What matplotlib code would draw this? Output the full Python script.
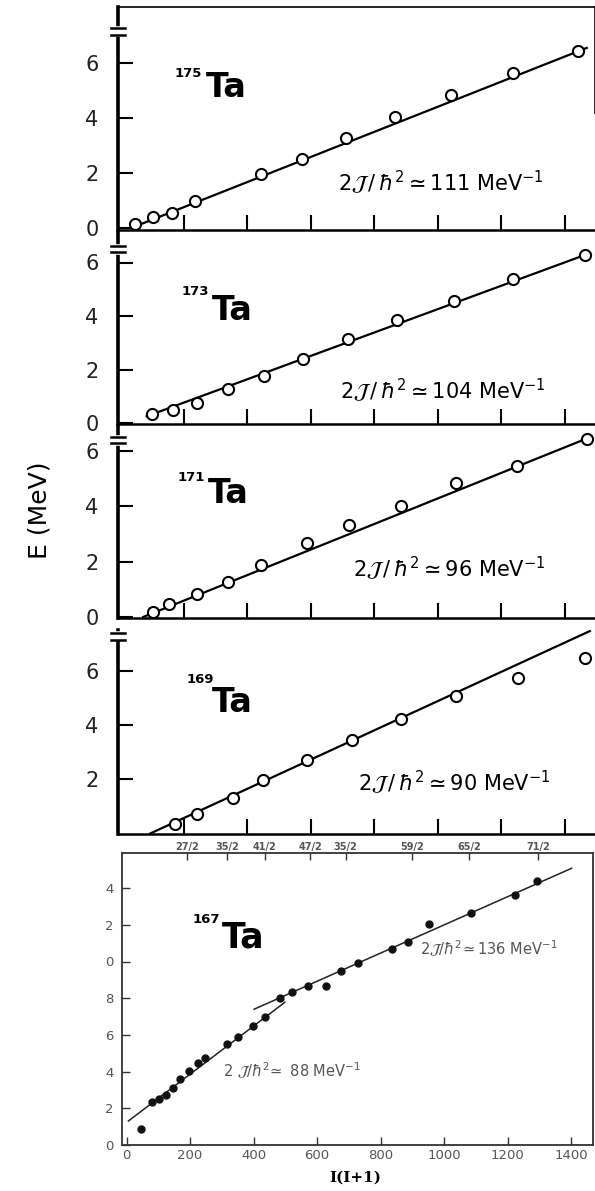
import matplotlib
matplotlib.use("agg")
import matplotlib.pyplot as plt
from matplotlib.lines import Line2D

# values: x = I(I+1), E in MeV
ta175_ii = [47, 104, 164, 236, 444, 573, 712, 866, 1043, 1238, 1443]
ta175_e = [0.15, 0.40, 0.55, 0.98, 1.96, 2.50, 3.27, 4.04, 4.84, 5.64, 6.44]
ta175_fit_ii = [35, 1470]
ta175_fit_e = [0.0, 6.55]

ta173_ii = [101, 167, 243, 340, 454, 576, 718, 872, 1052, 1238, 1465]
ta173_e = [0.34, 0.49, 0.75, 1.27, 1.76, 2.39, 3.14, 3.85, 4.56, 5.38, 6.28]
ta173_fit_ii = [84, 1480]
ta173_fit_e = [0.25, 6.35]

ta171_ii = [104, 154, 243, 340, 444, 589, 721, 885, 1058, 1250, 1471]
ta171_e = [0.18, 0.47, 0.83, 1.26, 1.87, 2.67, 3.32, 4.00, 4.83, 5.44, 6.41]
ta171_fit_ii = [73, 1474]
ta171_fit_e = [0.0, 6.45]

ta169_ii = [173, 243, 356, 450, 589, 731, 885, 1058, 1254, 1465]
ta169_e = [0.33, 0.70, 1.30, 1.96, 2.70, 3.44, 4.22, 5.07, 5.74, 6.48]
ta169_fit_ii = [95, 1480]
ta169_fit_e = [-0.02, 7.48]

ta167_ii = [45, 81, 103, 124, 148, 169, 198, 226, 247, 318, 352, 399, 436,
            484, 520, 573, 628, 675, 730, 837, 888, 954, 1084, 1224, 1294]
ta167_e = [0.85, 2.33, 2.52, 2.72, 3.09, 3.58, 4.05, 4.45, 4.76, 5.49, 5.87,
           6.48, 6.98, 8.01, 8.32, 8.67, 8.67, 9.48, 9.90, 10.68, 11.06,
           12.03, 12.63, 13.61, 14.40]
ta167_low_fit_ii = [6, 499]
ta167_low_fit_e = [1.31, 7.78]
ta167_high_fit_ii = [402, 1402]
ta167_high_fit_e = [7.40, 15.08]

moments = ["111", "104", "96", "90"]
isotopes = ["175", "173", "171", "169"]
x_ticks = [0, 200, 400, 600, 800, 1000, 1200, 1400]
e_ticks_167 = [0, 2, 4, 6, 8, 10, 12, 14]
e_tick_labels_167 = ["0", "2", "4", "6", "8", "0", "2", "4"]
spin_ticks = [190, 318, 436, 578, 690, 900, 1080, 1296]
spin_labels = ["27/2", "35/2", "41/2", "47/2", "35/2", "59/2", "65/2", "71/2"]

W, H = 595, 1191


def fig_box(left, top, right, bottom):
    return [left / W, 1 - bottom / H, (right - left) / W, (bottom - top) / H]


def fig_xy(x, y):
    return x / W, 1 - y / H


def px_to_data(px):
    # shared x scale of the upper panels: 0 at 120 px, 63.5 px per 200
    return (px - 120) / 63.5 * 200


fig = plt.figure(figsize=(W / 100, H / 100), dpi=100)

# layout of the four stacked panels, in pixels
upper_layout = [
    # top, bottom, zero_px, px_per_mev, break_y, ta_y, sup_y, ta_x, sup_x, note_x, note_y
    (7, 230, 228, 27.5, 31, 97, 77, 206, 175, 338, 190),
    (232, 424, 423, 26.75, 249, 320, 295, 212, 182, 340, 398),
    (426, 618, 617, 27.75, 440, 503, 481, 208, 178, 353, 576),
    (630, 834, 833, 27.0, 636, 712, 683, 212, 187, 358, 790),
]
upper_data = [
    (ta175_ii, ta175_e, ta175_fit_ii, ta175_fit_e),
    (ta173_ii, ta173_e, ta173_fit_ii, ta173_fit_e),
    (ta171_ii, ta171_e, ta171_fit_ii, ta171_fit_e),
    (ta169_ii, ta169_e, ta169_fit_ii, ta169_fit_e),
]

for index, (layout, data) in enumerate(zip(upper_layout, upper_data)):
    top, bottom, zero_px, scale, break_y, ta_y, sup_y, ta_x, sup_x, note_x, note_y = layout
    ii, energy, fit_ii, fit_e = data
    ax = fig.add_axes(fig_box(118, top, W, bottom))
    ax.plot(fit_ii, fit_e, color="black", lw=1.6, zorder=2)
    ax.plot(ii, energy, "o", ms=8, mfc="white", mec="black", mew=1.5, zorder=3)
    ax.set_xlim(px_to_data(118), px_to_data(W))
    ax.set_ylim((zero_px - bottom) / scale, (zero_px - top) / scale)
    ax.set_xticks(x_ticks[1:])
    ax.set_yticks([0, 2, 4, 6] if index < 3 else [2, 4, 6])
    ax.tick_params(axis="x", direction="in", length=11, width=1.5,
                   labelbottom=False)
    ax.tick_params(axis="y", direction="in", length=11, width=1.5, pad=14,
                   labelsize=15, labelcolor="#222222")
    ax.spines["left"].set_linewidth(2.6)
    ax.spines["bottom"].set_linewidth(1.8)
    ax.spines["top"].set_visible(index == 0)
    ax.spines["top"].set_linewidth(1.2)
    ax.spines["right"].set_visible(index == 0)
    ax.spines["right"].set_linewidth(1.2)
    if index == 0:
        ax.spines["right"].set_bounds((zero_px - 113) / scale, (zero_px - top) / scale)

    # axis break mark on the energy axis
    x0, y0 = fig_xy(118, break_y - 2.5)
    x1, y1 = fig_xy(118, break_y + 2.5)
    fig.add_artist(Line2D([x0, x1], [y0, y1], color="white", lw=4))
    for offset in (-3.5, 3.5):
        x0, y0 = fig_xy(111, break_y + offset)
        x1, y1 = fig_xy(125, break_y + offset)
        fig.add_artist(Line2D([x0, x1], [y0, y1], color="black", lw=1.8))

    fig.text(*fig_xy(sup_x, sup_y), isotopes[index], fontsize=9.5,
             fontweight="bold", ha="left", va="baseline")
    fig.text(*fig_xy(ta_x, ta_y), "Ta", fontsize=24, fontweight="bold",
             ha="left", va="baseline")
    fig.text(*fig_xy(note_x, note_y),
             r"$2\mathcal{J}\,/\,\hbar^{2}\simeq$" + moments[index] + r" MeV$^{-1}$",
             fontsize=15, ha="left", va="baseline")

fig.text(*fig_xy(40, 510), "E (MeV)", rotation=90, fontsize=18,
         ha="center", va="center")

# bottom panel: 167Ta
gray = "#555555"
ax5 = fig.add_axes(fig_box(122, 853, 593, 1145))
ax5.plot(ta167_low_fit_ii, ta167_low_fit_e, color="#222222", lw=1.1)
ax5.plot(ta167_high_fit_ii, ta167_high_fit_e, color="#222222", lw=1.1)
ax5.plot(ta167_ii, ta167_e, "o", ms=5, color="#111111")
ax5.set_xlim((122 - 126.5) / 63.5 * 200, (593 - 126.5) / 63.5 * 200)
ax5.set_ylim(0, (1145 - 853) / 18.35)
ax5.set_xticks(x_ticks)
ax5.set_yticks(e_ticks_167)
ax5.set_yticklabels(e_tick_labels_167)
ax5.tick_params(direction="in", length=6, width=1, colors="#333333",
                labelcolor=gray, labelsize=9.5)
ax5.tick_params(axis="x", pad=3)
ax5.tick_params(axis="y", pad=6)
for spine in ax5.spines.values():
    spine.set_linewidth(1.3)
    spine.set_color("#333333")

ax_spin = ax5.twiny()
ax_spin.set_xlim(ax5.get_xlim())
ax_spin.set_xticks(spin_ticks)
ax_spin.set_xticklabels(spin_labels)
ax_spin.tick_params(direction="in", length=5, width=1, colors="#333333",
                    labelcolor=gray, labelsize=7, pad=1)
for label in ax_spin.get_xticklabels():
    label.set_fontweight("bold")
for spine in ax_spin.spines.values():
    spine.set_visible(False)

fig.text(*fig_xy(193, 923), "167", fontsize=9.5, fontweight="bold",
         ha="left", va="baseline")
fig.text(*fig_xy(222, 948), "Ta", fontsize=25, fontweight="bold",
         ha="left", va="baseline")
fig.text(*fig_xy(420, 955), r"$2\mathcal{J}/\hbar^{2}\!\simeq$136 MeV$^{-1}$",
         fontsize=10.5, color=gray, ha="left", va="baseline")
fig.text(*fig_xy(223, 1077), r"$2\ \mathcal{J}/\hbar^{2}\!\simeq$ 88 MeV$^{-1}$",
         fontsize=10.5, color=gray, ha="left", va="baseline")
fig.text(*fig_xy(355, 1178), "I(I+1)", fontsize=11, fontweight="bold",
         family="DejaVu Serif", ha="center", va="center")

fig.savefig("out.png", dpi=100)
